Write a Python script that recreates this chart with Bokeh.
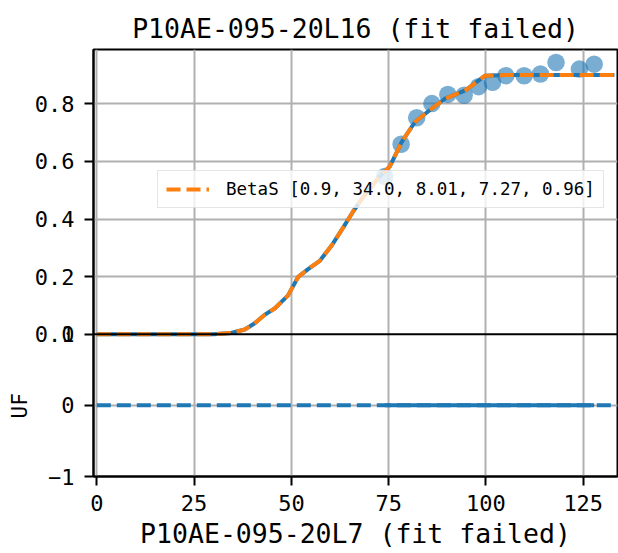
from bokeh.plotting import figure
from bokeh.models import Range1d, FixedTicker, Span, Title, Legend, LegendItem
from bokeh.embed import file_html
from bokeh.resources import INLINE

# ---- data ----
curve_x = [0, 10, 20, 30, 34.5, 38, 40.5, 43, 45.7, 49.1, 51.7, 54.3, 57.3, 60.3, 63.3,
           65.9, 68.9, 72.3, 75.3, 78.4, 81.8, 86.1, 89.5, 94.7, 99.8, 105, 110, 120, 133]
curve_y = [0, 0, 0, 0, 0.004, 0.016, 0.037, 0.066, 0.089, 0.134, 0.198, 0.226, 0.255, 0.307,
           0.37, 0.427, 0.485, 0.542, 0.583, 0.669, 0.738, 0.784, 0.818, 0.847, 0.898, 0.9,
           0.9, 0.9, 0.9]
pts_x = [74, 78.2, 82.2, 86.1, 90.2, 94.4, 98.1, 101.7, 105.1, 109.8, 114.0, 118.0, 124.0, 127.8]
pts_y = [0.548, 0.66, 0.752, 0.801, 0.833, 0.83, 0.86, 0.875, 0.898, 0.898, 0.904, 0.944, 0.921, 0.938]
uf_line_x = [0, 133.8]
uf_line_y = [0, 0]
uf_pts_y = [0] * len(pts_x)
x_ticks = [0, 25, 50, 75, 100, 125]
top_y_ticks = [0.0, 0.2, 0.4, 0.6, 0.8]
uf_ticks = [-1, 0, 1]
uf_tick_labels = ["\u22121", "0", "1"]
legend_label = "BetaS [0.9, 34.0, 8.01, 7.27, 0.96]"
title_text = "P10AE-095-20L16 (fit failed)"
xlabel_text = "P10AE-095-20L7 (fit failed)"
uf_label = "UF"

FONT = "DejaVu Sans Mono"
BLUE = "#1f77b4"
ORANGE = "#ff7f0e"

# top panel range and the UF panel range share one frame
K = 0.989 / 4.0
TOP = (-2 * K, 4 * K)
UF = (-1.0, 5.0)


def uf_to_top(v):
    return TOP[0] + (v - UF[0]) * (TOP[1] - TOP[0]) / (UF[1] - UF[0])


p = figure(width=618, height=553, x_range=Range1d(-0.85, 133.8), y_range=Range1d(*TOP),
           output_backend="svg", toolbar_location=None,
           min_border_left=93, min_border_right=1, min_border_top=49, min_border_bottom=77)
p.extra_y_ranges = {"uf": Range1d(*UF)}

p.title.text = title_text
p.title.text_font = FONT
p.title.text_font_size = "26.5px"
p.title.text_font_style = "normal"
p.title.text_color = "black"
p.title.align = "center"
p.title.standoff = 11

p.outline_line_color = "black"
p.outline_line_width = 2
p.outline_line_alpha = 1
p.background_fill_color = "white"
p.border_fill_color = "white"

# grids
p.xgrid.ticker = FixedTicker(ticks=x_ticks)
p.ygrid.ticker = FixedTicker(ticks=[uf_to_top(0)] + top_y_ticks[1:])
for g in (p.xgrid, p.ygrid):
    g.grid_line_color = "#b0b0b0"
    g.grid_line_width = 2

# axes
p.xaxis.ticker = FixedTicker(ticks=x_ticks)
p.xaxis.axis_label = xlabel_text
p.xaxis.axis_label_text_font = FONT
p.xaxis.axis_label_text_font_size = "26.5px"
p.xaxis.axis_label_text_font_style = "normal"
p.xaxis.axis_label_text_color = "black"
p.xaxis.axis_label_standoff = 4
p.xaxis.major_label_standoff = 9

# left axis: lower-panel UF ticks and upper-panel ticks on one axis
ONE_POS = 1e-12  # the UF "1" tick sits on the same line as the upper "0.0"
ytick_vals = [uf_to_top(uf_ticks[0]), uf_to_top(uf_ticks[1]), ONE_POS] + top_y_ticks
overrides = {uf_to_top(uf_ticks[0]): uf_tick_labels[0],
             uf_to_top(uf_ticks[1]): uf_tick_labels[1],
             ONE_POS: uf_tick_labels[2]}
for v in top_y_ticks:
    overrides[v] = "%.1f" % v
p.yaxis.ticker = FixedTicker(ticks=ytick_vals)
p.yaxis.major_label_overrides = overrides
p.yaxis.major_label_standoff = 10

for ax in (p.xaxis, p.yaxis):
    ax.major_label_text_font = FONT
    ax.major_label_text_font_size = "22px"
    ax.major_label_text_color = "black"
    ax.major_tick_out = 9
    ax.major_tick_in = 0
    ax.major_tick_line_width = 2
    ax.minor_tick_line_color = None
    ax.axis_line_width = 2
    ax.axis_line_color = "black"

# UF axis title placed beside the lower panel
p.add_layout(Title(text=uf_label, align="left", offset=58, standoff=0, text_font=FONT,
                   text_font_size="21px", text_font_style="normal", text_color="black"), "left")

# divider between the two panels
p.add_layout(Span(location=0, dimension="width", line_color="black", line_width=2))

# top panel
p.scatter(pts_x, pts_y, size=17.5, fill_color=BLUE, line_color=None, fill_alpha=0.6)
p.line(curve_x, curve_y, line_color=BLUE, line_width=4)
r_fit = p.line(curve_x, curve_y, line_color=ORANGE, line_width=4, line_dash="14 6")

# UF panel
p.line(uf_line_x, uf_line_y, y_range_name="uf", line_color=BLUE, line_width=4, line_dash="14 6")
p.line(pts_x, uf_pts_y, y_range_name="uf", line_color=BLUE, line_width=4)

legend = Legend(items=[LegendItem(label=legend_label, renderers=[r_fit])], location=(64, 268))
legend.label_text_font = FONT
legend.label_text_font_size = "17.5px"
legend.label_text_color = "black"
legend.glyph_width = 43
legend.glyph_height = 20
legend.label_standoff = 17
legend.label_height = 20
legend.padding = 8
legend.margin = 0
legend.spacing = 0
legend.border_line_color = "#cccccc"
legend.border_line_width = 1.5
legend.background_fill_alpha = 0.8
p.add_layout(legend)

open("out.html", "w").write(file_html(p, INLINE))
